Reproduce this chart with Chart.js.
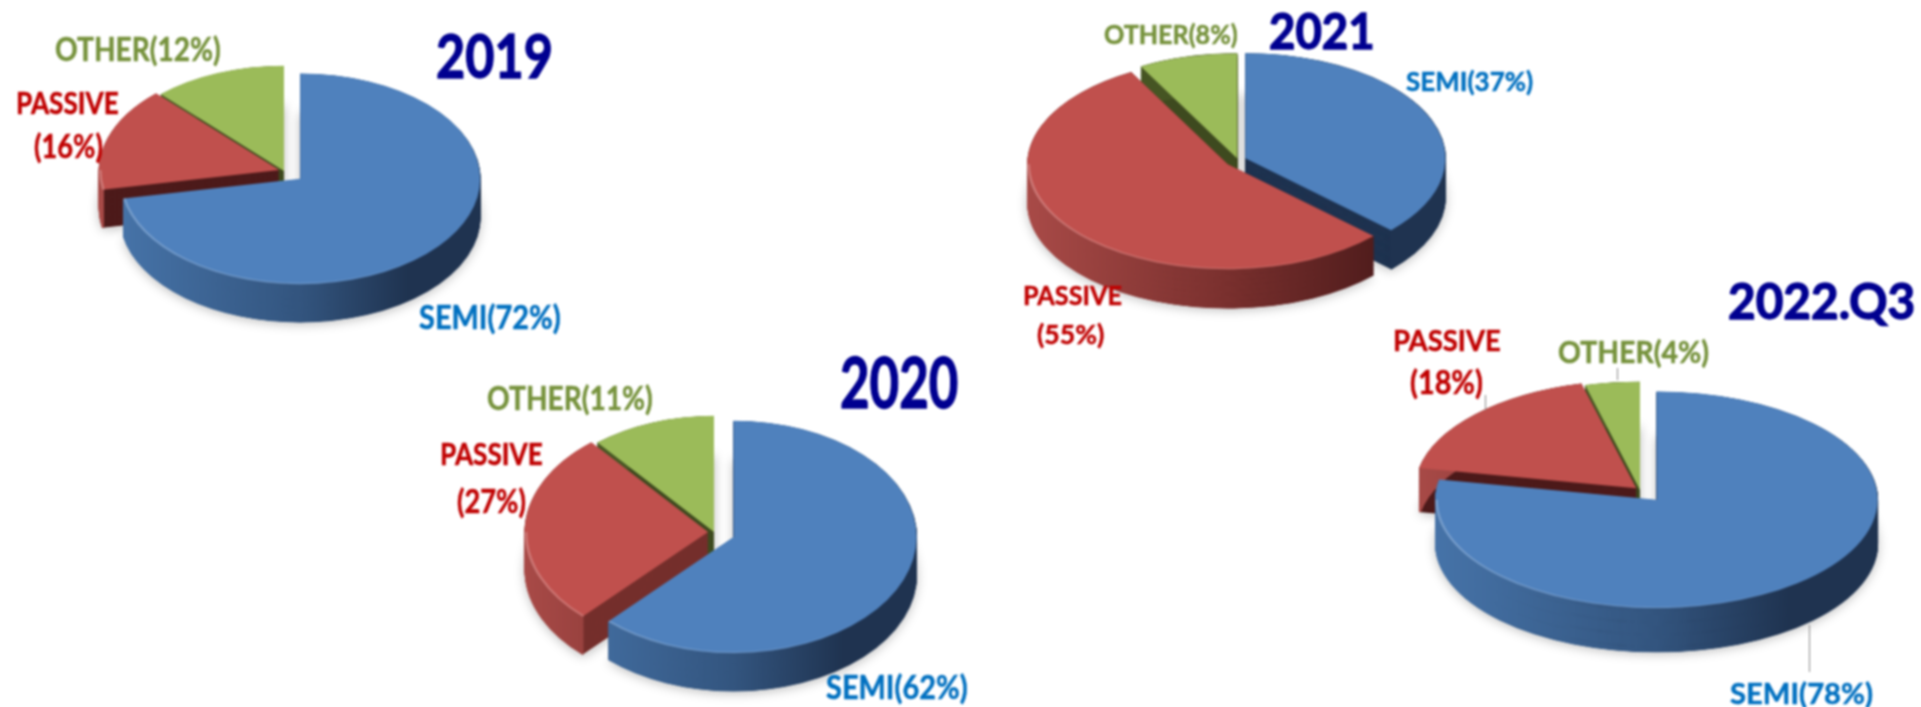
<!DOCTYPE html>
<html>
<head>
<meta charset="utf-8">
<title>Revenue mix 2019 - 2022.Q3</title>
<script src="https://cdn.jsdelivr.net/npm/chart.js@4"></script>
<style>
    html, body { margin: 0; background: #fff; width: 1921px; height: 707px; overflow: hidden; }
    #stage { position: absolute; left: 0; top: 0; width: 1921px; height: 707px; filter: blur(0.8px); }
    #stage canvas { position: absolute; }
    .txt { position: absolute; white-space: nowrap; font-family: Lato, sans-serif; font-weight: 700; line-height: 1; transform-origin: left center; -webkit-text-stroke: 0.5px currentColor; }
    .title { -webkit-text-stroke: 1.4px currentColor; }
    .leader { position: absolute; width: 1px; background: #8a8a8a; }
</style>
</head>
<body>
<div id="stage"></div>
<script>
// --- Data ---
const categories = ['SEMI', 'PASSIVE', 'OTHER'];
const years = ['2019', '2020', '2021', '2022.Q3'];
const values2019 = [72, 16, 12];
const values2020 = [62, 27, 11];
const values2021 = [37, 55, 8];
const values2022 = [78, 18, 4];

const sliceColors = ['#4f81bd', '#c0504d', '#9bbb59'];
const labelColors = ['#0070c0', '#c00000', '#76923c'];
const titleColor = '#000090';

// --- Pie geometry ---
const pieStyles = [
    { cx: 284, cy: 171, r: 180, squash: 0.585, depth: 38, explode: [21, 5, 0], order: [2, 1, 0], redCut: '#4d1b1b' },
    { cx: 714, cy: 532, r: 183, squash: 0.635, depth: 38, explode: [21, 6, 0], order: [2, 1, 0], redCut: '#752f2c' },
    { cx: 1238, cy: 160, r: 200, squash: 0.525, depth: 39, explode: [8, 13, 3], order: [2, 0, 1], redCut: '#4d1b1b' },
    { cx: 1640, cy: 490, r: 221, squash: 0.49, depth: 44, explode: [26, 5, 0], order: [2, 1, 0], redCut: '#4d1b1b' }
];

const stage = document.getElementById('stage');

function wallGradient(ctx, x, r, index) {
    const g = ctx.createLinearGradient(x - r, 0, x + r, 0);
    if (index === 0) {
        g.addColorStop(0, '#4673a8');
        g.addColorStop(0.5, '#33557f');
        g.addColorStop(0.8, '#1f3350');
        g.addColorStop(1, '#1f3350');
    } else if (index === 1) {
        g.addColorStop(0, '#a84a47');
        g.addColorStop(0.5, '#7a302e');
        g.addColorStop(0.9, '#4d1b1b');
        g.addColorStop(1, '#4d1b1b');
    } else {
        g.addColorStop(0, '#4a5a25');
        g.addColorStop(1, '#3e4a1f');
    }
    return g;
}

function sector(ctx, arc, dy) {
    ctx.beginPath();
    ctx.moveTo(arc.x, arc.y + dy);
    ctx.arc(arc.x, arc.y + dy, arc.outerRadius, arc.startAngle, arc.endAngle);
    ctx.closePath();
}

function moveOut(ctx, arc, amount) {
    const mid = (arc.startAngle + arc.endAngle) / 2;
    ctx.translate(Math.cos(mid) * amount, Math.sin(mid) * amount);
}

function drawSlice(ctx, arc, index, style) {
    const depth = style.depth / style.squash;
    const cut = index === 0 ? '#1f3350' : index === 1 ? style.redCut : '#3e4a1f';
    ctx.save();
    moveOut(ctx, arc, style.explode[index]);

    // body and cut faces
    ctx.fillStyle = cut;
    for (let d = depth; d > 0; d -= 1) {
        sector(ctx, arc, d);
        ctx.fill();
    }
    // outer wall
    ctx.strokeStyle = wallGradient(ctx, arc.x, arc.outerRadius, index);
    ctx.lineWidth = 2;
    for (let d = depth; d > 0; d -= 1) {
        ctx.beginPath();
        ctx.arc(arc.x, arc.y + d, arc.outerRadius - 0.5, arc.startAngle, arc.endAngle);
        ctx.stroke();
    }
    arc.draw(ctx);

    // light rim on the front edge
    const from = Math.max(arc.startAngle, 0);
    const to = Math.min(arc.endAngle, Math.PI);
    if (to > from) {
        const rim = ctx.createLinearGradient(arc.x - arc.outerRadius, 0, arc.x + arc.outerRadius, 0);
        rim.addColorStop(0, 'rgba(255,255,255,0.24)');
        rim.addColorStop(0.55, 'rgba(255,255,255,0.12)');
        rim.addColorStop(0.85, 'rgba(255,255,255,0)');
        ctx.strokeStyle = rim;
        ctx.lineWidth = 2.5;
        ctx.beginPath();
        ctx.arc(arc.x, arc.y, arc.outerRadius - 1, from, to);
        ctx.stroke();
    }
    ctx.restore();
}

function makePie(values, style) {
    const margin = 90;
    const size = style.r * 2 + margin * 2;
    const canvas = document.createElement('canvas');
    canvas.width = size;
    canvas.height = size;
    canvas.style.left = (style.cx - size / 2) + 'px';
    canvas.style.top = (style.cy - size / 2) + 'px';
    stage.appendChild(canvas);

    const pie3d = {
        id: 'pie3d',
        beforeDatasetDraw(chart) {
            const ctx = chart.ctx;
            const arcs = chart.getDatasetMeta(0).data;
            const c = arcs[0];
            ctx.save();
            ctx.translate(c.x, c.y);
            ctx.scale(1, style.squash);
            ctx.translate(-c.x, -c.y);

            // soft shadow under the whole pie first
            ctx.save();
            ctx.shadowColor = 'rgba(0,0,0,0.28)';
            ctx.shadowBlur = 12;
            ctx.fillStyle = '#ddd';
            arcs.forEach((arc, i) => {
                ctx.save();
                moveOut(ctx, arc, style.explode[i]);
                sector(ctx, arc, style.depth / style.squash + 3);
                ctx.fill();
                ctx.restore();
            });
            ctx.restore();

            style.order.forEach(i => drawSlice(ctx, arcs[i], i, style));
            ctx.restore();
            return false;
        }
    };

    return new Chart(canvas, {
        type: 'pie',
        data: {
            labels: categories,
            datasets: [{ data: values, backgroundColor: sliceColors, borderWidth: 0 }]
        },
        options: {
            responsive: false,
            animation: false,
            events: [],
            layout: { padding: margin },
            plugins: { legend: { display: false }, tooltip: { enabled: false } }
        },
        plugins: [pie3d]
    });
}

// x0/x1 is the text's span on the page, y its vertical middle
function addText(text, x0, x1, y, size, color, isTitle) {
    const el = document.createElement('div');
    el.className = isTitle ? 'txt title' : 'txt';
    el.textContent = text;
    el.style.fontSize = size + 'px';
    el.style.color = color;
    el.style.left = x0 + 'px';
    el.style.top = (y - size / 2) + 'px';
    stage.appendChild(el);
    el.style.transform = `scaleX(${(x1 - x0) / el.offsetWidth})`;
}

function addLeader(x, y0, y1) {
    const el = document.createElement('div');
    el.className = 'leader';
    el.style.left = x + 'px';
    el.style.top = y0 + 'px';
    el.style.height = (y1 - y0) + 'px';
    stage.appendChild(el);
}

const pct = (v) => `(${v}%)`;
const oneLine = (i, v) => categories[i] + pct(v);

function draw() {
    makePie(values2019, pieStyles[0]);
    makePie(values2020, pieStyles[1]);
    makePie(values2021, pieStyles[2]);
    makePie(values2022, pieStyles[3]);

    // 2019
    addText(years[0], 436, 553, 54, 62, titleColor, true);
    addText(oneLine(2, values2019[2]), 55, 221, 49, 32, labelColors[2]);
    addText(categories[1], 16, 119, 102, 30, labelColors[1]);
    addText(pct(values2019[1]), 34, 103, 146, 32, labelColors[1]);
    addText(oneLine(0, values2019[0]), 419, 561, 317, 32, labelColors[0]);

    // 2020
    addText(years[1], 840, 958, 381, 70, titleColor, true);
    addText(oneLine(2, values2020[2]), 487, 653, 398, 32, labelColors[2]);
    addText(categories[1], 440, 543, 453, 30, labelColors[1]);
    addText(pct(values2020[1]), 457, 526, 501, 32, labelColors[1]);
    addText(oneLine(0, values2020[0]), 826, 968, 687, 32, labelColors[0]);

    // 2021
    addText(years[2], 1269, 1375, 30, 49, titleColor, true);
    addText(oneLine(2, values2021[2]), 1104, 1238, 33, 27, labelColors[2]);
    addText(oneLine(0, values2021[0]), 1406, 1533, 80, 27, labelColors[0]);
    addText(categories[1], 1023, 1122, 294, 27, labelColors[1]);
    addText(pct(values2021[1]), 1037, 1104, 333, 27, labelColors[1]);

    // 2022.Q3
    addText(years[3], 1728, 1915, 300, 50, titleColor, true);
    addText(oneLine(2, values2022[2]), 1558, 1709, 351, 31, labelColors[2]);
    addText(categories[1], 1393, 1501, 339, 29, labelColors[1]);
    addText(pct(values2022[1]), 1410, 1483, 382, 32, labelColors[1]);
    addText(oneLine(0, values2022[0]), 1730, 1873, 693, 28, labelColors[0]);
    addLeader(1617, 368, 380);
    addLeader(1485, 395, 410);
    addLeader(1809, 625, 672);
}

document.fonts.load('700 28px Lato').then(draw, draw);
</script>
</body>
</html>
